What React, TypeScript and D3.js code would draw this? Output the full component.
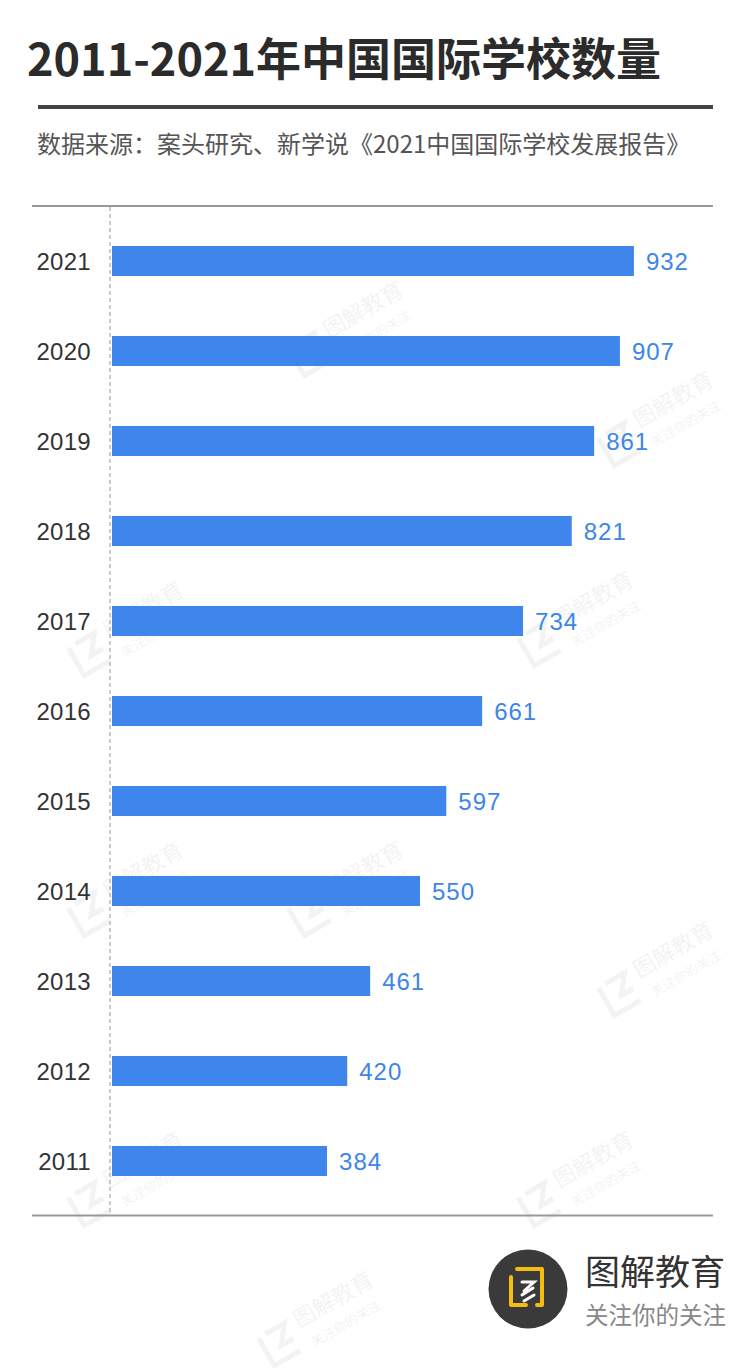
import React from "react";
import * as d3 from "d3";

const years = ["2021", "2020", "2019", "2018", "2017", "2016", "2015", "2014", "2013", "2012", "2011"];
const counts = [932, 907, 861, 821, 734, 661, 597, 550, 461, 420, 384];
const title = "2011-2021年中国国际学校数量";
const source = "数据来源：案头研究、新学说《2021中国国际学校发展报告》";
const brand = "图解教育";
const slogan = "关注你的关注";

const W = 750;
const H = 1370;
const FONT = "'PingFang SC','Noto Sans CJK SC','Noto Sans',sans-serif";
const NUM = "'Helvetica','Liberation Sans',Arial,sans-serif";

export default function App() {
  const x = d3.scaleLinear().domain([0, 1000]).range([112, 672]);
  const y = d3.scaleBand().domain(years).range([216, 1206]).paddingInner(2 / 3).paddingOuter(1 / 3);
  const watermarks = [
    [330, 340], [640, 430], [110, 640], [560, 630], [330, 900],
    [640, 980], [110, 1190], [560, 1190], [300, 1330], [110, 900],
  ];
  return (
    <svg width={W} height={H} style={{ display: "block", position: "absolute", left: 0, top: 0, background: "#fff" }} fontFamily={FONT}>
      <rect width={W} height={H} fill="#fff" />
      {watermarks.map(([wx, wy], i) => (
        <g key={i} transform={`translate(${wx},${wy}) rotate(-30)`} opacity={0.045}>
          <path d="M-40,-14 L-40,18 L-10,18 M-32,-14 L-10,-14 L-24,4 L-10,4" fill="none" stroke="#000" strokeWidth={5} />
          <text x={0} y={-2} fontSize={22} fill="#000">图解教育</text>
          <text x={4} y={22} fontSize={13} fill="#000">关注你的关注</text>
        </g>
      ))}
      <text x={27} y={76} fontSize={45} fontWeight={700} fill="#2b2b2b">{title}</text>
      <rect x={38} y={105} width={675} height={4} fill="#444" />
      <text x={37} y={153} fontSize={24} fill="#555">{source}</text>
      <line x1={32} x2={713} y1={206} y2={206} stroke="#999" strokeWidth={2} />
      <line x1={110} x2={110} y1={207} y2={1215} stroke="#bbb" strokeWidth={1.5} strokeDasharray="4,3" />
      <line x1={32} x2={713} y1={1215.5} y2={1215.5} stroke="#999" strokeWidth={2} />
      {years.map((yr, i) => {
        const by = y(yr)!;
        const bh = y.bandwidth();
        const v = counts[i];
        return (
          <g key={yr}>
            <rect x={x(0)} y={by} width={x(v) - x(0)} height={bh} fill="#3f86ec" />
            <text x={91} y={by + bh / 2 + 8.5} fontSize={24} letterSpacing={0.3} textAnchor="end" fill="#333" fontFamily={NUM}>{yr}</text>
            <text x={x(v) + 12} y={by + bh / 2 + 8.5} fontSize={24} letterSpacing={1} fill="#3d85ea" fontFamily={NUM}>{v}</text>
          </g>
        );
      })}
      <g transform="translate(528,1289)">
        <circle r={39.5} fill="#3a3a3a" />
        <path d="M-17,-12 L-17,16 L-2,16 M-11,-20 L14,-20 L14,16 L9,16" fill="none" stroke="#f5bd0f" strokeWidth={4} strokeLinecap="round" strokeLinejoin="round" />
        <path d="M-6,-7 L6,-7 L-4,2 M-6,6 L5,-1 M-4,12 L6,6" fill="none" stroke="#fff" strokeWidth={3} strokeLinecap="round" />
      </g>
      <text x={585} y={1285} fontSize={35} fill="#333">{brand}</text>
      <text x={585} y={1324} fontSize={23.5} fill="#888">{slogan}</text>
    </svg>
  );
}
